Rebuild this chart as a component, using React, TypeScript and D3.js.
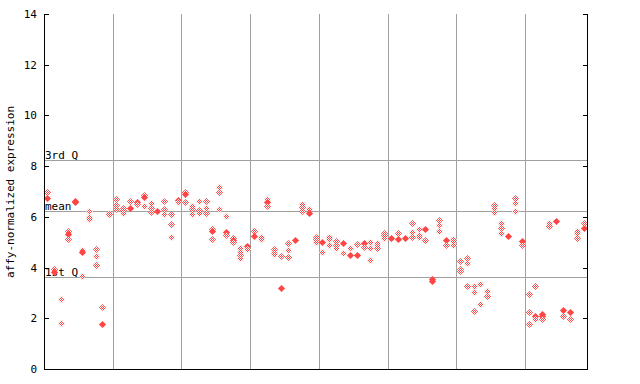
import React from "react";
import * as d3 from "d3";

// y-axis ticks
const yTicks = [0, 2, 4, 6, 8, 10, 12, 14];
// reference lines
const refLabels = ["3rd Q", "mean", "1st Q"];
const refValues = [8.23, 6.23, 3.63];
// group boundaries (sample positions)
const groupBreaks = [10.5, 20.5, 30.5, 40.5, 50.5, 60.5, 70.5];

// replicate values for each of the 79 samples
const sampleValues: number[][] = [
  [6.97, 6.75], [3.93, 3.84], [2.75, 1.8], [5.43, 5.32, 5.14], [6.62, 6.58],
  [4.7, 4.6, 3.67], [6.25, 5.98, 5.9], [4.72, 4.44, 4.09], [2.43, 1.79], [6.17, 6.1],
  [6.69, 6.46, 6.3], [6.36, 6.27, 6.14], [6.61, 6.36], [6.58, 6.49], [6.86, 6.78, 6.43],
  [6.55, 6.36, 6.2], [6.24], [6.61, 6.31, 6.11], [6.11, 5.72, 5.19], [6.68, 6.6],
  [6.97, 6.89, 6.6], [6.44, 6.31, 6.1], [6.64, 6.27, 6.17], [6.64, 6.33, 6.17], [5.52, 5.44, 5.14],
  [7.19, 6.97, 6.3], [6.02, 5.42, 5.28], [5.17, 5.09, 5.01], [4.76, 4.63, 4.51, 4.39], [4.85, 4.72],
  [5.44, 5.24], [5.22, 5.11], [6.7, 6.6, 6.44], [4.73, 4.63, 4.54], [4.44, 3.21],
  [4.96, 4.68, 4.4], [5.1], [6.51, 6.37, 6.24], [6.3, 6.17], [5.2, 5.11, 5.02],
  [4.99, 4.6], [5.2, 5.11, 4.9], [5.05, 4.88, 4.76], [4.98, 4.56], [4.76, 4.51],
  [4.92, 4.51], [4.98, 4.82], [5.02, 4.78, 4.3], [4.97, 4.88, 4.76], [5.36, 5.27, 5.18],
  [5.15], [5.36, 5.13], [5.17], [5.76, 5.4, 5.19], [5.51, 5.3, 5.19],
  [5.52, 5.09], [3.56, 3.47], [5.88, 5.67, 5.44], [5.09, 4.88], [5.14, 5.03, 4.88],
  [4.26, 3.96, 3.85], [4.36, 4.17, 3.26], [3.26, 3.02, 2.27], [3.34, 2.55], [3.06, 2.87],
  [6.45, 6.36, 6.18], [5.76, 5.55, 5.35], [5.26], [6.74, 6.53, 6.24], [5.06, 4.88],
  [2.95, 2.24, 1.77], [3.26, 2.1, 1.98], [2.16, 2.09, 1.98], [5.74, 5.64], [5.85],
  [2.34, 2.08], [2.26, 1.98], [5.45, 5.37, 5.18], [5.57, 5.74],
];
// 1 = solid marker, 0 = hatched marker
const sampleFilled: number[][] = [
  [0, 1], [0, 1], [0, 0], [0, 1, 0], [1, 1],
  [0, 1, 0], [0, 0, 0], [0, 0, 0], [0, 1], [0, 0],
  [0, 0, 0], [0, 0, 0], [0, 1], [1, 0], [0, 1, 0],
  [0, 0, 0], [1], [0, 0, 0], [0, 0, 0], [1, 0],
  [0, 1, 0], [0, 0, 0], [0, 0, 0], [0, 0, 0], [0, 1, 0],
  [0, 0, 0], [0, 1, 0], [0, 1, 0], [0, 0, 0, 0], [1, 0],
  [0, 1], [0, 0], [0, 1, 0], [0, 0, 0], [0, 1],
  [0, 0, 0], [1], [0, 0, 0], [0, 1], [0, 0, 0],
  [1, 0], [0, 0, 0], [0, 0, 0], [1, 0], [0, 1],
  [0, 1], [1, 0], [0, 0, 0], [0, 0, 0], [0, 0, 0],
  [1], [0, 1], [1], [0, 0, 0], [0, 0, 0],
  [1, 0], [1, 1], [0, 0, 0], [1, 0], [0, 0, 0],
  [0, 0, 0], [0, 0, 0], [0, 0, 0], [0, 0], [0, 0],
  [0, 0, 0], [0, 0, 0], [1], [0, 0, 0], [1, 0],
  [0, 0, 0], [0, 1, 0], [1, 1, 0], [0, 0], [1],
  [1, 0], [1, 0], [0, 0, 0], [1, 0],
];

const W = 640;
const H = 384;
const left = 44;
const right = 587;
const top = 14;
const bottom = 369;
const red = "#ff4444";
const grid = "#a0a0a0";
const font = "'DejaVu Sans Mono', monospace";

export default function App() {
  const x = d3.scaleLinear().domain([0.5, sampleValues.length + 0.5]).range([left, right]);
  const y = d3.scaleLinear().domain([0, 14]).range([bottom, top]);
  const diamond = (cx: number, cy: number, r: number) =>
    `M${cx},${cy - r}L${cx + r},${cy}L${cx},${cy + r}L${cx - r},${cy}Z`;

  const points: { cx: number; cy: number; f: number; k: string }[] = [];
  sampleValues.forEach((vals, i) => {
    vals.forEach((v, j) => {
      points.push({
        cx: Math.round(x(i + 1)) + 0.5,
        cy: Math.round(y(v)) + 0.5,
        f: sampleFilled[i][j],
        k: `${i}-${j}`,
      });
    });
  });

  return (
    <svg width={W} height={H} style={{ position: "absolute", left: 0, top: 0 }}>
      <defs>
        <pattern id="hatch" width="2" height="2" patternUnits="userSpaceOnUse">
          <rect width="2" height="2" fill="#ffffff" />
          <rect width="1" height="1" fill={red} />
          <rect x="1" y="1" width="1" height="1" fill={red} />
        </pattern>
      </defs>
      <rect width={W} height={H} fill="#ffffff" />
      {groupBreaks.map((g) => (
        <line key={g} x1={Math.round(x(g)) + 0.5} x2={Math.round(x(g)) + 0.5} y1={top} y2={bottom} stroke={grid} strokeWidth={1} />
      ))}
      {refValues.map((v, i) => (
        <g key={refLabels[i]}>
          <line x1={left} x2={right} y1={Math.round(y(v)) + 0.5} y2={Math.round(y(v)) + 0.5} stroke={grid} strokeWidth={1} />
          <text x={left + 1} y={Math.round(y(v)) - 1} fontFamily={font} fontSize={11} fill="#000">
            {refLabels[i]}
          </text>
        </g>
      ))}
      {points.map((p) =>
        p.f ? (
          <path key={p.k} d={diamond(p.cx, p.cy, 3.6)} fill={red} />
        ) : (
          <path key={p.k} d={diamond(p.cx, p.cy, 3.6)} fill="url(#hatch)" />
        )
      )}
      {/* axes */}
      <line x1={left + 0.5} x2={left + 0.5} y1={top} y2={bottom} stroke="#000" />
      <line x1={right + 0.5} x2={right + 0.5} y1={top} y2={bottom + 0.5} stroke="#000" />
      <line x1={left} x2={right + 1} y1={bottom + 0.5} y2={bottom + 0.5} stroke="#000" />
      {yTicks.map((t) => (
        <g key={t}>
          <line x1={left} x2={left + 5} y1={Math.round(y(t)) + 0.5} y2={Math.round(y(t)) + 0.5} stroke="#000" />
          <line x1={right - 4} x2={right} y1={Math.round(y(t)) + 0.5} y2={Math.round(y(t)) + 0.5} stroke="#000" />
          <text x={37} y={y(t) + 4} textAnchor="end" fontFamily={font} fontSize={11} fill="#000">
            {t}
          </text>
        </g>
      ))}
      <text
        transform={`translate(14,192) rotate(-90)`}
        textAnchor="middle"
        fontFamily={font}
        fontSize={11}
        fill="#000"
      >
        affy-normalized expression
      </text>
    </svg>
  );
}
